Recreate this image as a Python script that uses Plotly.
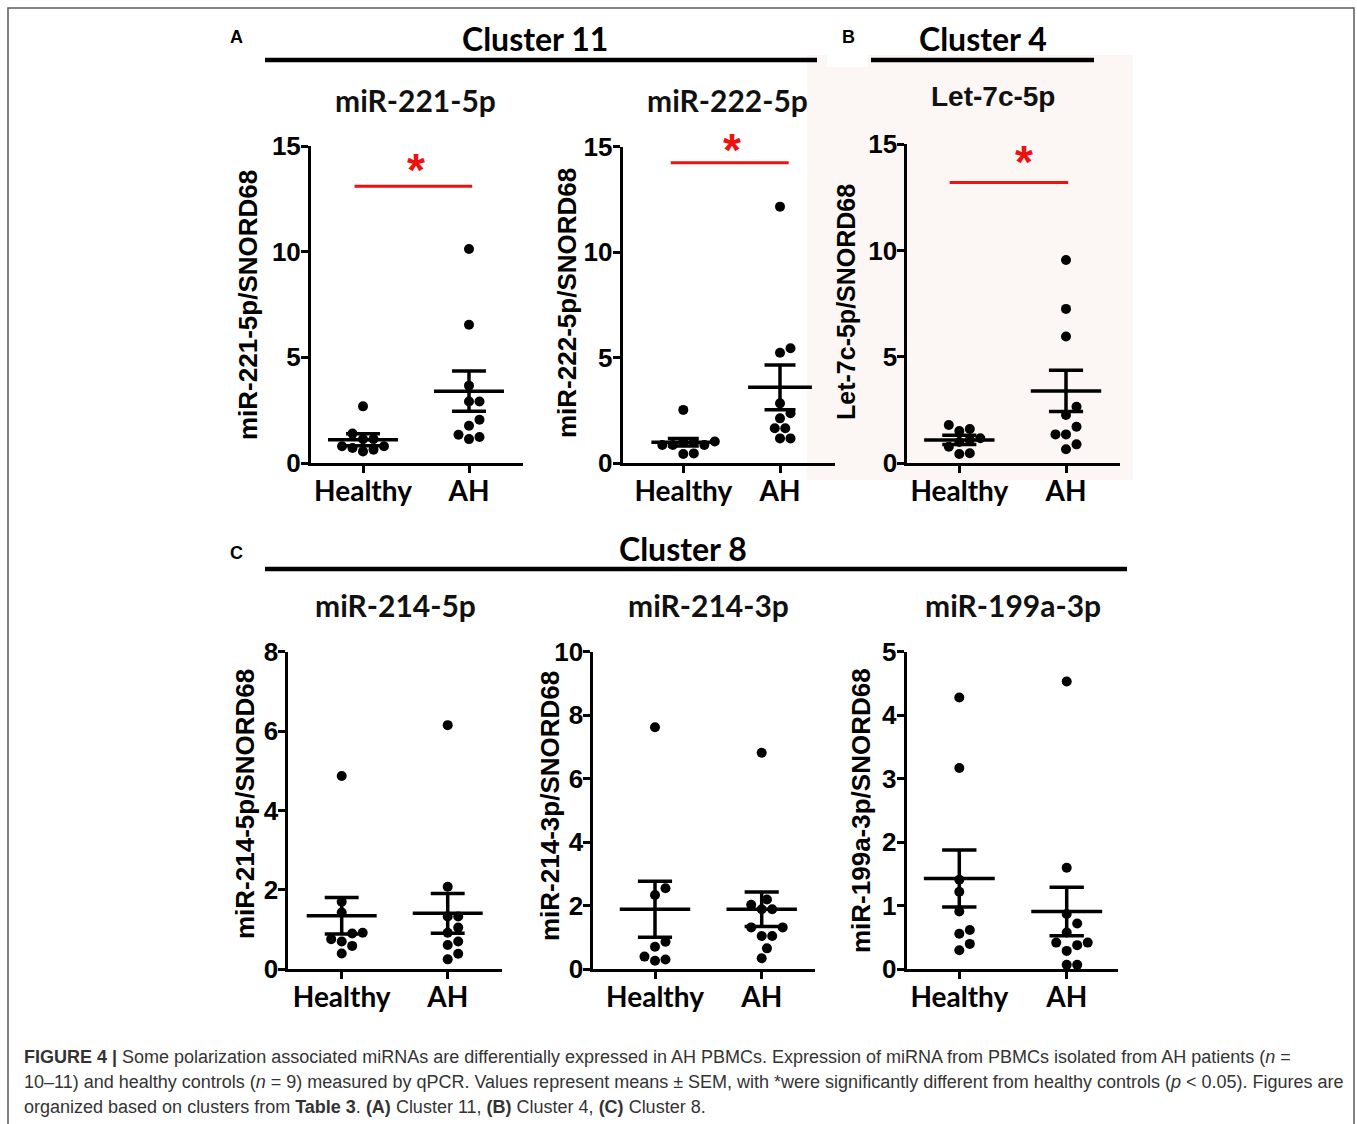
import plotly.graph_objects as go

W, H = 1357, 1124

# ---------------- data ----------------
groups = ["Healthy", "AH"]

mir221_healthy = [2.68, 1.39, 1.13, 1.13, 0.79, 0.79, 0.71, 0.63, 0.55]
mir221_ah = [10.13, 6.54, 3.66, 2.91, 2.91, 2.05, 1.76, 1.34, 1.23, 1.13]
mir221_mean = [1.10, 3.40]
mir221_sem = [0.28, 0.95]

mir222_healthy = [2.53, 1.03, 1.00, 1.00, 0.87, 0.87, 0.87, 0.47, 0.44]
mir222_ah = [12.16, 5.45, 5.24, 2.84, 2.37, 2.13, 1.66, 1.66, 1.18, 1.18]
mir222_mean = [1.00, 3.60]
mir222_sem = [0.18, 1.06]

let7c_healthy = [1.80, 1.61, 1.52, 1.18, 1.10, 1.00, 0.78, 0.47, 0.44]
let7c_ah = [9.56, 7.26, 5.96, 2.66, 2.27, 1.72, 1.36, 1.36, 0.89, 0.66]
let7c_mean = [1.10, 3.40]
let7c_sem = [0.22, 0.97]

mir214_5p_healthy = [4.87, 1.70, 1.43, 0.92, 0.90, 0.76, 0.70, 0.59, 0.40]
mir214_5p_ah = [6.15, 2.08, 1.33, 1.33, 1.05, 0.92, 0.70, 0.61, 0.39, 0.25]
mir214_5p_mean = [1.35, 1.41]
mir214_5p_sem = [0.46, 0.50]

mir214_3p_healthy = [7.62, 2.55, 2.34, 0.87, 0.71, 0.40, 0.31, 0.27]
mir214_3p_ah = [6.82, 2.20, 2.03, 1.89, 1.89, 1.32, 1.32, 1.05, 1.05, 0.66, 0.35]
mir214_3p_mean = [1.89, 1.89]
mir214_3p_sem = [0.88, 0.54]

mir199a_healthy = [4.28, 3.17, 1.41, 1.22, 0.91, 0.62, 0.56, 0.40, 0.30]
mir199a_ah = [4.53, 1.60, 0.87, 0.72, 0.58, 0.42, 0.42, 0.38, 0.29, 0.07, 0.07]
mir199a_mean = [1.43, 0.91]
mir199a_sem = [0.45, 0.38]

# significance bar level (y value) for the significant panels
sig_level = {"A1": 13.1, "A2": 14.24, "B": 13.2}

# ---------------- layout geometry (pixels) ----------------
def X(px):
    return px / W

def Y(py):
    return 1 - py / H

panels = [
    dict(key="A1", title="miR-221-5p", ytitle="miR-221-5p/SNORD68",
         h=mir221_healthy, a=mir221_ah, mean=mir221_mean, sem=mir221_sem,
         xpx=(311, 523), ypx=(146, 463), hx=363, ax=469, ymax=15, dtick=5,
         title_xy=(415, 100), ytitle_xy=(248, 305), tfont="Lato", tsize=30,
         sig=dict(x0=-0.08, x1=1.03, sx=0.5, sy=14.1)),
    dict(key="A2", title="miR-222-5p", ytitle="miR-222-5p/SNORD68",
         h=mir222_healthy, a=mir222_ah, mean=mir222_mean, sem=mir222_sem,
         xpx=(622.7, 835), ypx=(146.7, 463.3), hx=683.3, ax=780, ymax=15, dtick=5,
         title_xy=(727, 100), ytitle_xy=(567, 303), tfont="Lato", tsize=30,
         sig=dict(x0=-0.13, x1=1.09, sx=0.5, sy=15.1)),
    dict(key="B", title="Let-7c-5p", ytitle="Let-7c-5p/SNORD68",
         h=let7c_healthy, a=let7c_ah, mean=let7c_mean, sem=let7c_sem,
         xpx=(907.3, 1120), ypx=(144.3, 463.3), hx=959.3, ax=1066, ymax=15, dtick=5,
         title_xy=(993, 97), ytitle_xy=(846, 302), tfont="Liberation Sans", tsize=28,
         sig=dict(x0=-0.09, x1=1.02, sx=0.61, sy=14.4)),
    dict(key="C1", title="miR-214-5p", ytitle="miR-214-5p/SNORD68",
         h=mir214_5p_healthy, a=mir214_5p_ah, mean=mir214_5p_mean, sem=mir214_5p_sem,
         xpx=(288.3, 501.7), ypx=(651.7, 969.3), hx=341.7, ax=447.7, ymax=8, dtick=2,
         title_xy=(395, 605), ytitle_xy=(245, 804), tfont="Lato", tsize=30, sig=None),
    dict(key="C2", title="miR-214-3p", ytitle="miR-214-3p/SNORD68",
         h=mir214_3p_healthy, a=mir214_3p_ah, mean=mir214_3p_mean, sem=mir214_3p_sem,
         xpx=(593.3, 815), ypx=(651.7, 969.3), hx=655, ax=761.7, ymax=10, dtick=2,
         title_xy=(708, 605), ytitle_xy=(550, 806), tfont="Lato", tsize=30, sig=None),
    dict(key="C3", title="miR-199a-3p", ytitle="miR-199a-3p/SNORD68",
         h=mir199a_healthy, a=mir199a_ah, mean=mir199a_mean, sem=mir199a_sem,
         xpx=(906.7, 1118.3), ypx=(651.7, 969.3), hx=959.3, ax=1066.7, ymax=5, dtick=1,
         title_xy=(1013, 605), ytitle_xy=(861, 811), tfont="Lato", tsize=30, sig=None),
]


def swarm(vals, center, ppx, ppy, d=10.5):
    """GraphPad-like beeswarm: place each dot as close to center as possible without overlap."""
    placed = []
    out = [0.0] * len(vals)
    order = sorted(range(len(vals)), key=lambda i: vals[i])
    step = d / 2.0
    for i in order:
        yp = vals[i] * ppy
        k = 0
        while True:
            cands = [0.0] if k == 0 else [k * step, -k * step]
            ok = None
            for c in cands:
                if all((c - px) ** 2 + (yp - py) ** 2 >= d * d - 1e-6 for px, py in placed):
                    ok = c
                    break
            if ok is not None:
                placed.append((ok, yp))
                out[i] = center + ok / ppx
                break
            k += 1
    return out


fig = go.Figure()
annotations = []
shapes = []

# panel B tinted background
shapes.append(dict(type="rect", xref="paper", yref="paper", x0=X(807), x1=X(1133), y0=Y(480), y1=Y(55),
                   fillcolor="#fcf7f4", line=dict(width=0), layer="below"))
shapes.append(dict(type="rect", xref="paper", yref="paper", x0=X(827), x1=X(868), y0=Y(67), y1=Y(50),
                   fillcolor="white", line=dict(width=0), layer="below"))
# outer frame
shapes.append(dict(type="rect", xref="paper", yref="paper", x0=X(8), x1=X(1354), y0=Y(1140), y1=Y(8),
                   fillcolor="rgba(0,0,0,0)", line=dict(color="#5a5a5a", width=1.5)))

layout_axes = {}
for n, p in enumerate(panels, start=1):
    xa = "x" if n == 1 else f"x{n}"
    ya = "y" if n == 1 else f"y{n}"
    unit = p["ax"] - p["hx"]
    xr = [(p["xpx"][0] - p["hx"]) / unit, (p["xpx"][1] - p["hx"]) / unit]
    ppx = unit
    ppy = (p["ypx"][1] - p["ypx"][0]) / p["ymax"]

    xkey = "xaxis" if n == 1 else f"xaxis{n}"
    ykey = "yaxis" if n == 1 else f"yaxis{n}"
    layout_axes[xkey] = dict(
        domain=[X(p["xpx"][0]), X(p["xpx"][1])], range=xr, anchor=ya,
        tickvals=[0, 1], ticktext=groups, showgrid=False, zeroline=False,
        showline=True, linecolor="black", linewidth=3, ticks="outside", ticklen=7, tickwidth=2.5,
        tickcolor="black", tickfont=dict(family="Lato", size=28, color="black", weight="bold"),
        ticklabelstandoff=-6, automargin=False, fixedrange=True)
    layout_axes[ykey] = dict(
        domain=[Y(p["ypx"][1]), Y(p["ypx"][0])], range=[0, p["ymax"]], anchor=xa,
        tickmode="linear", tick0=0, dtick=p["dtick"], showgrid=False, zeroline=False,
        showline=True, linecolor="black", linewidth=3, ticks="outside", ticklen=7, tickwidth=2.5,
        tickcolor="black", tickfont=dict(family="Liberation Sans", size=26, color="black", weight="bold"),
        ticklabelstandoff=-5, automargin=False, fixedrange=True)

    # dots
    for gi, vals in enumerate([p["h"], p["a"]]):
        xs = swarm(vals, gi, ppx, ppy)
        fig.add_trace(go.Scatter(x=xs, y=vals, mode="markers", xaxis=xa, yaxis=ya,
                                 marker=dict(color="black", size=10, line=dict(width=0)),
                                 showlegend=False, hoverinfo="y"))
    # mean +/- SEM
    for gi in range(2):
        m, s = p["mean"][gi], p["sem"][gi]
        hw, cw = 0.33, 0.16
        xs = [gi - hw, gi + hw, None, gi, gi, None, gi - cw, gi + cw, None, gi - cw, gi + cw]
        ys = [m, m, None, m - s, m + s, None, m + s, m + s, None, m - s, m - s]
        fig.add_trace(go.Scatter(x=xs, y=ys, mode="lines", xaxis=xa, yaxis=ya,
                                 line=dict(color="black", width=3.5), showlegend=False,
                                 hoverinfo="skip", cliponaxis=False))
    # significance
    if p["sig"]:
        s = p["sig"]
        lvl = sig_level[p["key"]]
        fig.add_trace(go.Scatter(x=[s["x0"], s["x1"]], y=[lvl, lvl], mode="lines", xaxis=xa, yaxis=ya,
                                 line=dict(color="#f01010", width=3), showlegend=False,
                                 hoverinfo="skip", cliponaxis=False))
        # star position converted from data units to paper units (may lie above the axis range)
        d0, d1 = X(p["xpx"][0]), X(p["xpx"][1])
        e0, e1 = Y(p["ypx"][1]), Y(p["ypx"][0])
        sx_paper = d0 + (s["sx"] - xr[0]) / (xr[1] - xr[0]) * (d1 - d0)
        sy_paper = e0 + s["sy"] / p["ymax"] * (e1 - e0)
        annotations.append(dict(x=sx_paper, y=sy_paper, xref="paper", yref="paper", text="<b>*</b>",
                                showarrow=False,
                                font=dict(family="Liberation Sans", size=46, color="#f01010"),
                                xanchor="center", yanchor="middle", yshift=-5))

    # panel title
    annotations.append(dict(x=X(p["title_xy"][0]), y=Y(p["title_xy"][1]), xref="paper", yref="paper",
                            text=f"<b>{p['title']}</b>", showarrow=False, xanchor="center", yanchor="middle",
                            font=dict(family=p["tfont"], size=p["tsize"], color="#111")))
    # y title
    annotations.append(dict(x=X(p["ytitle_xy"][0]), y=Y(p["ytitle_xy"][1]), xref="paper", yref="paper",
                            text=f"<b>{p['ytitle']}</b>", showarrow=False, textangle=-90,
                            xanchor="center", yanchor="middle",
                            font=dict(family="Liberation Sans", size=25 if p["key"] == "B" else 26,
                                      color="black")))

# cluster headers
clusters = [("Cluster 11", 535, 38, 265, 817, 60),
            ("Cluster 4", 983, 38, 871, 1094, 60),
            ("Cluster 8", 683, 548, 265, 1127, 569)]
for name, cx, cy, lx0, lx1, ly in clusters:
    annotations.append(dict(x=X(cx), y=Y(cy), xref="paper", yref="paper", text=f"<b>{name}</b>",
                            showarrow=False, xanchor="center", yanchor="middle",
                            font=dict(family="Lato", size=32, color="black")))
    shapes.append(dict(type="line", xref="paper", yref="paper", x0=X(lx0), x1=X(lx1), y0=Y(ly), y1=Y(ly),
                       line=dict(color="black", width=4.5)))

for letter, lx, ly in [("A", 236, 37), ("B", 848, 37), ("C", 236, 553)]:
    annotations.append(dict(x=X(lx), y=Y(ly), xref="paper", yref="paper", text=f"<b>{letter}</b>",
                            showarrow=False, xanchor="center", yanchor="middle",
                            font=dict(family="Liberation Sans", size=18, color="black")))

# caption
caption_lines = [
    "<b>FIGURE 4 |</b> Some polarization associated miRNAs are differentially expressed in AH PBMCs. "
    "Expression of miRNA from PBMCs isolated from AH patients (<i>n</i> =",
    "10–11) and healthy controls (<i>n</i> = 9) measured by qPCR. Values represent means ± SEM, with "
    "*were significantly different from healthy controls (<i>p</i> &lt; 0.05). Figures are",
    "organized based on clusters from <b>Table 3</b>. <b>(A)</b> Cluster 11, <b>(B)</b> Cluster 4, "
    "<b>(C)</b> Cluster 8.",
]
for i, line in enumerate(caption_lines):
    annotations.append(dict(x=X(22), y=Y(1057 + 25 * i), xref="paper", yref="paper", text=line,
                            showarrow=False, xanchor="left", yanchor="middle",
                            font=dict(family="Liberation Sans", size=18, color="#333333")))

fig.update_layout(width=W, height=H, margin=dict(l=0, r=0, t=0, b=0, autoexpand=False),
                  paper_bgcolor="white", plot_bgcolor="rgba(0,0,0,0)",
                  showlegend=False, annotations=annotations, shapes=shapes, **layout_axes)

fig.write_html("out.html")
